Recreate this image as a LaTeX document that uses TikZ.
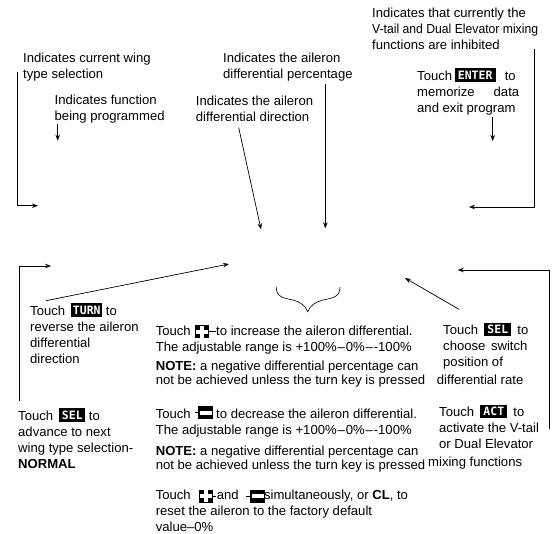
\documentclass[tikz,border=0pt]{standalone}
\usepackage{graphicx}
\usepackage{fontspec}
\setmainfont{Liberation Sans}
\newfontfamily\keyfont{DejaVu Sans Mono}[FontFace={bx}{n}{Font=* Bold}]
\usetikzlibrary{arrows.meta}
\newcommand{\keycap}[2]{\hspace{2.5pt}\smash{\setlength{\fboxsep}{0pt}\colorbox{black}{\rule[-1.5pt]{0pt}{13.5pt}\makebox[#1pt][c]{\raisebox{1pt}{\textcolor{white}{\fontsize{11.5}{11.5}\keyfont\bfseries #2}}}}}}
\tikzset{
  note/.style={anchor=north west, inner sep=0pt, yshift=-1pt, align=left, font=\fontsize{13.1}{16}\selectfont, execute at begin node=\strut},
  tight/.style={note, font=\fontsize{13.1}{13.8}\selectfont},
  line/.style={draw=black, line width=0.7pt, -{Stealth[length=6pt,width=4.5pt]}},
  keyplus/.style={fill=black, inner sep=0pt, minimum width=14pt, minimum height=13pt,
    path picture={\fill[white] ([xshift=-6pt,yshift=-2pt]path picture bounding box.center) rectangle ([xshift=6pt,yshift=2pt]path picture bounding box.center);
    \fill[white] ([xshift=-2pt,yshift=-6pt]path picture bounding box.center) rectangle ([xshift=2pt,yshift=6pt]path picture bounding box.center);}},
  keyminus/.style={fill=black, inner sep=0pt, minimum width=15pt, minimum height=13pt,
    path picture={\fill[white] ([xshift=-6pt,yshift=-2pt]path picture bounding box.center) rectangle ([xshift=6pt,yshift=2pt]path picture bounding box.center);}}
}
\begin{document}
\begin{tikzpicture}[x=1pt, y=-1pt]
    \useasboundingbox (0, 0) rectangle (553, 533);

    \node[note] (inhibit) at (372, 6.8) {Indicates that currently the\\\scalebox{0.93}[1]{V-tail and Dual Elevator mixing}\\functions are inhibited};
    \node[note] (enter) at (417, 69.5) {Touch\keycap{41}{ENTER}\hspace{5.5pt} to\\\makebox[102pt][s]{memorize\hfill data}\\and exit program};
    \node[note] (wing) at (23, 51.5) {Indicates current wing\\type selection};
    \node[note] (func) at (54.5, 94) {Indicates function\\being programmed};
    \node[note] (percent) at (223, 51.5) {Indicates the aileron\\differential percentage};
    \node[note] (direct) at (195.7, 94.8) {Indicates the aileron\\differential direction};

    \node[note] (turn) at (30, 304.5) {Touch \keycap{31}{TURN} to\\reverse the aileron\\differential\\direction};
    \node[note] (selleft) at (18, 409.5) {Touch \keycap{26}{SEL} to\\advance to next\\wing type selection-\\\textbf{NORMAL}};

    \node[note] (incr) at (155.6, 324.8) {\makebox[60.4pt][l]{Touch}to increase the aileron differential.\\The adjustable range is +100\%\hspace{0.9pt}–\hspace{0.9pt}0\%\hspace{0.9pt}–\hspace{0.9pt}-100\%};
    \node[tight] (notea) at (155.6, 360) {\textbf{NOTE:} a negative differential percentage can\\not be achieved unless the turn key is pressed};
    \node[note] (decr) at (155.6, 407.8) {\makebox[60.4pt][l]{Touch}to decrease the aileron differential.\\The adjustable range is +100\%\hspace{0.9pt}–\hspace{0.9pt}0\%\hspace{0.9pt}–\hspace{0.9pt}-100\%};
    \node[tight] (noteb) at (155.6, 444.8) {\textbf{NOTE:} a negative differential percentage can\\not be achieved unless the turn key is pressed};
    \node[note] (both) at (155.6, 488.8) {\makebox[61pt][l]{Touch}\makebox[47.3pt][l]{and}simultaneously, or \textbf{CL}, to\\reset the aileron to the factory default\\value–0\%};

    \node[note] (selright) at (443, 323.8) {Touch \keycap{27}{SEL}\hspace{2.5pt} to\\choose\hspace{2pt} switch\\position of};
    \node[note] (rate) at (436.7, 371.8) {differential rate};
    \node[note] (act) at (439, 406.1) {Touch \keycap{27}{ACT}\hspace{2.5pt} to\\activate the V-tail\\or Dual Elevator};
    \node[note] (mixing) at (428, 454.1) {mixing functions};

    \node[keyplus] (pluskeya) at (202, 331.5) {};
    \node[keyminus] (minuskeya) at (205.5, 412.5) {};
    \node[keyplus] (pluskeyb) at (205.5, 496) {};
    \node[keyminus] (minuskeyb) at (257.5, 496) {};
    \draw[line width=0.7pt] (pluskeya.east) -- ++(7, 0);
    \draw[line width=0.7pt] (minuskeya.west) -- ++(-3, 0);
    \draw[line width=0.7pt] (pluskeyb.east) -- ++(3, 0);
    \draw[line width=0.7pt] (minuskeyb.west) -- ++(-4, 0);

    \coordinate (wingtop) at (17.5, 72);
    \coordinate (wingend) at (38, 205.7);
    \coordinate (functop) at (57.7, 124);
    \coordinate (funcend) at (57.7, 140.7);
    \coordinate (inhibittop) at (534, 49);
    \coordinate (inhibitend) at (469, 207);
    \coordinate (entertop) at (492.7, 117);
    \coordinate (enterend) at (492.7, 141);
    \coordinate (directtop) at (238.7, 127.7);
    \coordinate (directend) at (261, 229.3);
    \coordinate (percenttop) at (325.3, 84.3);
    \coordinate (percentend) at (325.3, 228.3);
    \coordinate (turnstart) at (46, 300.7);
    \coordinate (turnend) at (229, 264);
    \coordinate (selstart) at (19, 400.7);
    \coordinate (selend) at (51, 266);
    \coordinate (ratestart) at (459, 309.3);
    \coordinate (rateend) at (405, 278);
    \coordinate (actstart) at (549, 429);
    \coordinate (actend) at (457.7, 270);

    \draw[line] (wingtop) |- (wingend);
    \draw[line] (functop) -- (funcend);
    \draw[line] (inhibittop) |- (inhibitend);
    \draw[line] (entertop) -- (enterend);
    \draw[line] (directtop) -- (directend);
    \draw[line] (percenttop) -- (percentend);
    \draw[line] (turnstart) -- (turnend);
    \draw[line] (selstart) |- (selend);
    \draw[line] (ratestart) -- (rateend);
    \draw[line] (actstart) |- (actend);

    \coordinate (braceleft) at (276.3, 287);
    \coordinate (braceright) at (340, 287);
    \coordinate (bracetip) at (307.8, 311.7);
    \draw[line width=0.6pt] (braceleft) .. controls (276, 298) and (285, 298) .. (293, 300)
        .. controls (300, 302) and (305, 305) .. (bracetip)
        .. controls (310, 305) and (316, 302) .. (323, 300)
        .. controls (331, 298) and (340, 298) .. (braceright);
\end{tikzpicture}
\end{document}
